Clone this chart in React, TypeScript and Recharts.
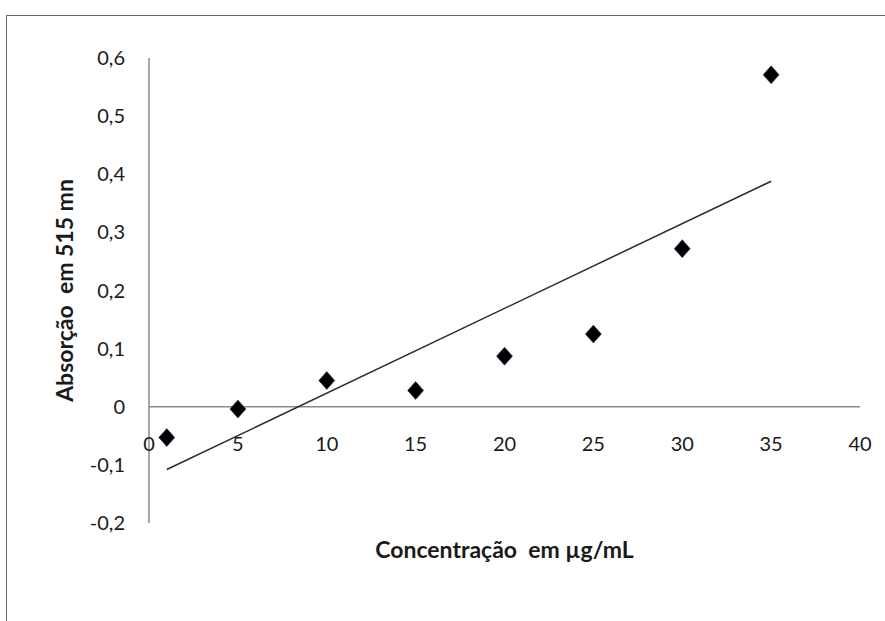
import React from 'react';
import { ScatterChart, Scatter, XAxis, YAxis, ReferenceLine } from 'recharts';

const concentrations = [1, 5, 10, 15, 20, 25, 30, 35];
const absorbances = [-0.053, -0.004, 0.045, 0.028, 0.087, 0.125, 0.272, 0.571];
const trendX = [1, 35];
const trendY = [-0.108, 0.388];
const xTicks = [0, 5, 10, 15, 20, 25, 30, 35, 40];
const yTicks = [-0.2, -0.1, 0, 0.1, 0.2, 0.3, 0.4, 0.5, 0.6];
const xTitle = 'Concentração\u00a0 em µg/mL';
const yTitle = 'Absorção\u00a0 em 515 mn';

const points = concentrations.map((x, i) => ({ x, y: absorbances[i] }));
const trend = trendX.map((x, i) => ({ x, y: trendY[i] }));

const FONT = 'Lato, "Open Sans", sans-serif';

const Diamond = (props: any) => {
  const { cx, cy } = props;
  if (cx == null || cy == null) return null;
  return (
    <path
      d={`M${cx},${cy - 9}L${cx + 8},${cy}L${cx},${cy + 9}L${cx - 8},${cy}Z`}
      fill="#000"
      stroke="#23405e"
      strokeWidth={0.6}
    />
  );
};

const NoShape = () => null;

const fmtY = (v: number) => (v === 0 ? '0' : String(v).replace('.', ','));

const YTitle = (props: any) => {
  const { viewBox } = props;
  const x = viewBox.x + 15;
  const y = viewBox.y + viewBox.height / 2;
  return (
    <text
      x={x}
      y={y}
      transform={`rotate(-90, ${x}, ${y})`}
      textAnchor="middle"
      dominantBaseline="central"
      fontFamily={FONT}
      fontWeight="bold"
      fontSize={23}
      fill="#1a1a1a"
    >
      {yTitle}
    </text>
  );
};

const XTitle = (props: any) => {
  const { viewBox } = props;
  const x = viewBox.x + viewBox.width / 2;
  const y = viewBox.y + 26;
  return (
    <text
      x={x}
      y={y}
      textAnchor="middle"
      dominantBaseline="central"
      fontFamily={FONT}
      fontWeight="bold"
      fontSize={23}
      fill="#1a1a1a"
    >
      {xTitle}
    </text>
  );
};

export default function App() {
  return (
    <div
      style={{
        position: 'fixed',
        left: 0,
        top: 0,
        width: 885,
        height: 621,
        background: '#fff',
        overflow: 'hidden',
      }}
    >
      <div
        style={{
          position: 'absolute',
          left: 6,
          top: 15,
          width: 1000,
          height: 1000,
          border: '1px solid #6b6b6b',
        }}
      />
      <div style={{ position: 'absolute', left: 0, top: 0 }}>
        <ScatterChart
          width={885}
          height={621}
          margin={{ top: 58, right: 25, bottom: 58, left: 49 }}
          style={{ fontFamily: FONT }}
        >
          <XAxis
            type="number"
            dataKey="x"
            domain={[0, 40]}
            ticks={xTicks}
            axisLine={false}
            tickLine={false}
            tickSize={0}
            tickMargin={0}
            height={40}
            tick={{ fill: '#1a1a1a', fontSize: 20, fontFamily: FONT, dy: -86 }}
            interval={0}
            label={<XTitle />}
          />
          <YAxis
            type="number"
            dataKey="y"
            domain={[-0.2, 0.6]}
            ticks={yTicks}
            width={100}
            axisLine={{ stroke: '#8a8a8a', strokeWidth: 1.5 }}
            tickLine={false}
            tickSize={0}
            tickMargin={24}
            tickFormatter={fmtY}
            tick={{ fill: '#1a1a1a', fontSize: 20, fontFamily: FONT }}
            interval={0}
            label={<YTitle />}
          />
          <ReferenceLine y={0} stroke="#8a8a8a" strokeWidth={1.5} />
          <Scatter
            data={trend}
            line={{ stroke: '#2a2a2a', strokeWidth: 1.5 }}
            shape={NoShape}
            isAnimationActive={false}
          />
          <Scatter data={points} shape={Diamond} isAnimationActive={false} />
        </ScatterChart>
      </div>
    </div>
  );
}
